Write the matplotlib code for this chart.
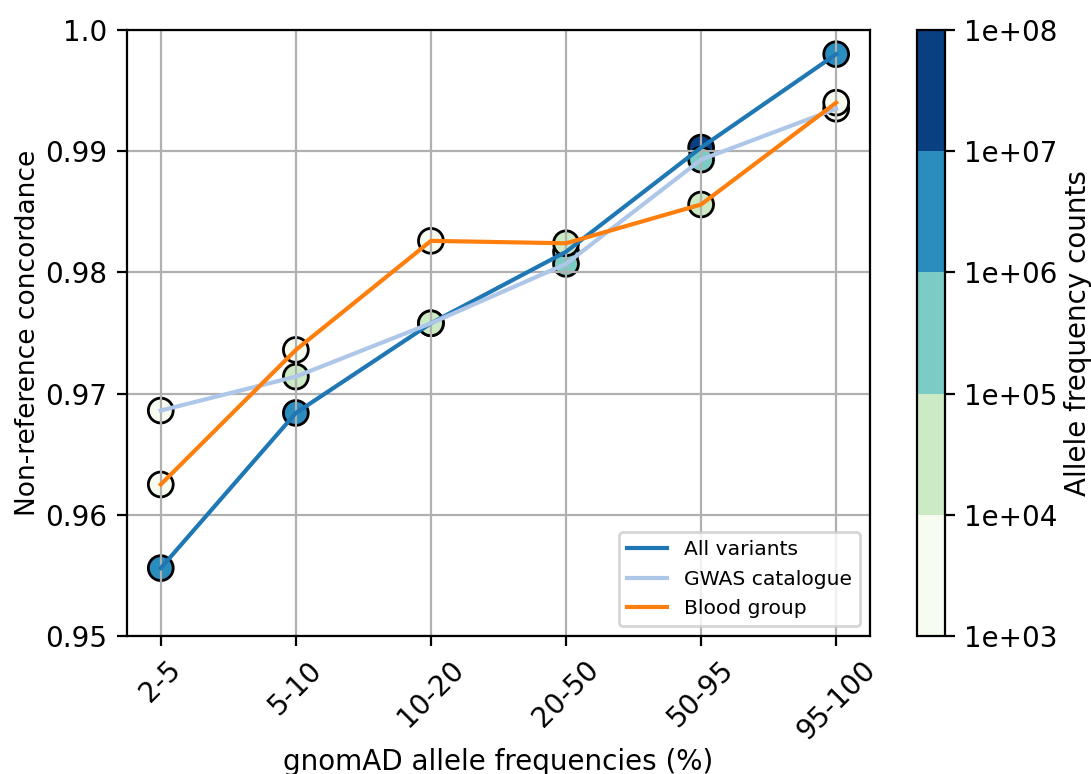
import matplotlib
matplotlib.use("Agg")
import matplotlib.pyplot as plt
from matplotlib.colors import LogNorm
from matplotlib.ticker import FormatStrFormatter

# categories de fréquence
bins = ["2-5", "5-10", "10-20", "20-50", "50-95", "95-100"]

# concordance par série
all_variants = [0.9556, 0.9684, 0.9758, 0.9817, 0.9903, 0.9980]
gwas = [0.9686, 0.9714, 0.9758, 0.9807, 0.9893, 0.9935]
blood = [0.9625, 0.9736, 0.9826, 0.9824, 0.9856, 0.9940]

# nombre d'allèles (couleur des points)
all_counts = [3e6, 3e6, 3e6, 3e5, 3e7, 3e6]
gwas_counts = [3e3, 3e4, 3e4, 3e5, 3e5, 3e3]
blood_counts = [3e3, 3e3, 3e3, 3e4, 3e4, 3e3]

yticks = [0.95, 0.96, 0.97, 0.98, 0.99, 1.0]
cbar_ticks = [1e3, 1e4, 1e5, 1e6, 1e7, 1e8]

series = [
    (all_variants, all_counts, "All variants", "#1f77b4"),
    (gwas, gwas_counts, "GWAS catalogue", "#aec7e8"),
    (blood, blood_counts, "Blood group", "#ff7f0e"),
]

cmap = plt.get_cmap("GnBu", 5)
norm = LogNorm(vmin=1e3, vmax=1e8)

fig = plt.figure(figsize=(5.455, 3.87), dpi=200)
ax = fig.add_axes([0.1164, 0.1783, 0.681, 0.783])
cax = fig.add_axes([0.8405, 0.1783, 0.0257, 0.783])

x = list(range(len(bins)))
for values, counts, label, color in series:
    ax.plot(x, values, c=color, linewidth=1.5, label=label)
    sc = ax.scatter(x, values, c=counts, cmap=cmap, norm=norm, s=80,
                    edgecolors="black", linewidths=1.0)

ax.set_ylim(0.95, 1.0)
ax.set_yticks(yticks)
ax.set_yticklabels([str(v) for v in yticks])
ax.set_xticks(x)
ax.set_xticklabels(bins, rotation=45)
ax.grid(True)
ax.set_xlabel("gnomAD allele frequencies (%)", labelpad=1)
ax.set_ylabel("Non-reference concordance", fontsize=9.5, labelpad=1.5)
ax.legend(loc="lower right", fontsize=7.3)

cb = fig.colorbar(sc, cax=cax)
cb.set_ticks(cbar_ticks)
cb.ax.yaxis.set_major_formatter(FormatStrFormatter("%.0e"))
cb.ax.minorticks_off()
cb.set_label("Allele frequency counts", labelpad=2)

fig.savefig("out.png", dpi=200)
